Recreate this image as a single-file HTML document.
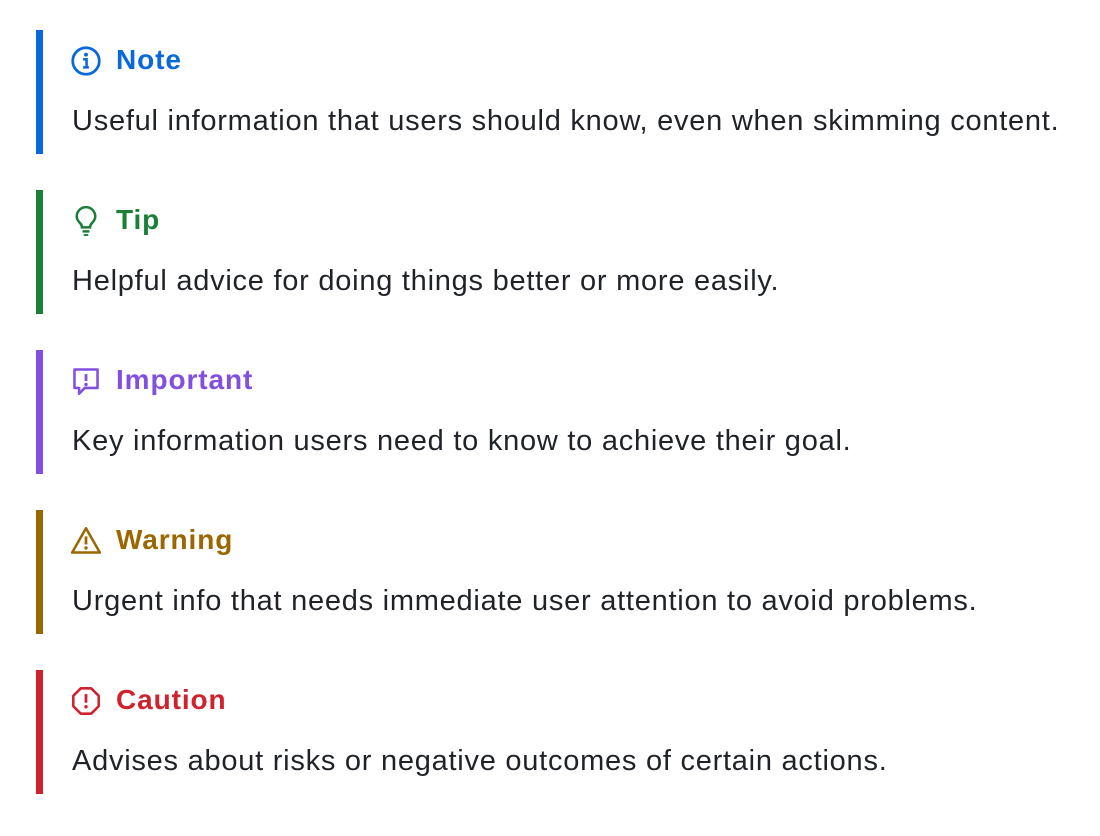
<!DOCTYPE html>
<html><head><meta charset="utf-8"><style>
html,body{margin:0;padding:0;background:#fff;width:1100px;height:836px;overflow:hidden}
body{position:relative;font-family:"Liberation Sans",sans-serif}
.alert{position:absolute;left:36px;width:1040px;height:124px}
.bar{position:absolute;left:0;top:0;width:7px;height:124px}
.title{position:absolute;left:80px;top:13px;font-size:28px;font-weight:bold;line-height:34px;letter-spacing:0.9px}
.icon{position:absolute;left:35px;top:16px;width:30px;height:30px}
.body{position:absolute;left:36px;top:74px;font-size:29px;color:#1f2328;line-height:34px;white-space:nowrap;letter-spacing:0.75px}
</style></head><body>
<div class="alert" style="top:30px">
 <div class="bar" style="background:#0969da"></div>
 <svg class="icon" viewBox="1 1 26 26"><circle cx="14" cy="14" r="11.5" fill="none" stroke="#0969da" stroke-width="2.4"/><circle cx="14" cy="8.5" r="1.7" fill="#0969da"/><path d="M11.5 12.5h3v7M11.5 19.5h5" stroke="#0969da" stroke-width="2.2" fill="none"/></svg>
 <div class="title" style="color:#0969da">Note</div>
 <div class="body">Useful information that users should know, even when skimming content.</div>
</div>
<div class="alert" style="top:190px">
 <div class="bar" style="background:#1a7f37"></div>
 <svg class="icon" viewBox="1 1 26 26"><path d="M9 16c-2-2-3-4-3-6a8 8 0 0 1 16 0c0 2-1 4-3 6-1 1-1.5 2-1.5 3.5h-7C10.5 18 10 17 9 16z" fill="none" stroke="#1a7f37" stroke-width="2.2"/><path d="M11 23h6M12 26.5h4" stroke="#1a7f37" stroke-width="2.2"/></svg>
 <div class="title" style="color:#1a7f37">Tip</div>
 <div class="body">Helpful advice for doing things better or more easily.</div>
</div>
<div class="alert" style="top:350px">
 <div class="bar" style="background:#8250df"></div>
 <svg class="icon" viewBox="1 1 26 26"><path d="M4 4h20v16H13l-5 5v-5H4z" fill="none" stroke="#8250df" stroke-width="2.2" stroke-linejoin="round"/><path d="M14 8v6" stroke="#8250df" stroke-width="2.4"/><circle cx="14" cy="17" r="1.5" fill="#8250df"/></svg>
 <div class="title" style="color:#8250df">Important</div>
 <div class="body">Key information users need to know to achieve their goal.</div>
</div>
<div class="alert" style="top:510px">
 <div class="bar" style="background:#9a6700"></div>
 <svg class="icon" viewBox="1 1 26 26"><path d="M14 3L26 24H2z" fill="none" stroke="#9a6700" stroke-width="2.2" stroke-linejoin="round"/><path d="M14 10v7" stroke="#9a6700" stroke-width="2.4"/><circle cx="14" cy="20" r="1.5" fill="#9a6700"/></svg>
 <div class="title" style="color:#9a6700">Warning</div>
 <div class="body">Urgent info that needs immediate user attention to avoid problems.</div>
</div>
<div class="alert" style="top:670px">
 <div class="bar" style="background:#cf222e"></div>
 <svg class="icon" viewBox="1 1 26 26"><path d="M9.5 3h9L25 9.5v9L18.5 25h-9L3 18.5v-9z" fill="none" stroke="#cf222e" stroke-width="2.2" stroke-linejoin="round"/><path d="M14 8v7.5" stroke="#cf222e" stroke-width="2.4"/><circle cx="14" cy="19" r="1.5" fill="#cf222e"/></svg>
 <div class="title" style="color:#cf222e">Caution</div>
 <div class="body">Advises about risks or negative outcomes of certain actions.</div>
</div>
</body></html>
